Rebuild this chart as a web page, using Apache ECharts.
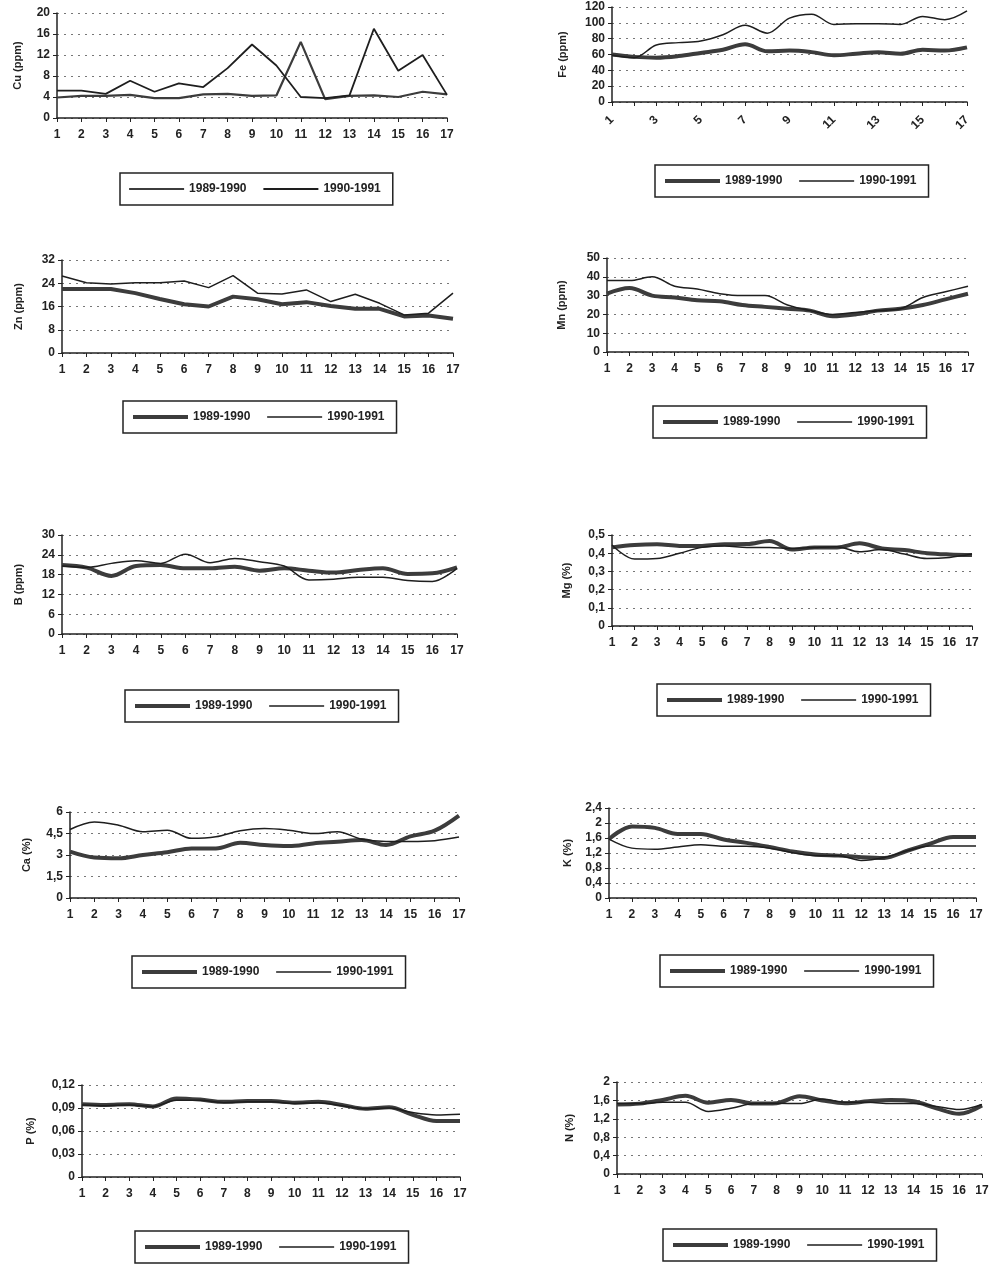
<!DOCTYPE html>
<html><head><meta charset="utf-8">
<script src="https://cdn.jsdelivr.net/npm/echarts@6/dist/echarts.min.js"></script>
<style>html,body{margin:0;padding:0;background:#fff}#c{width:992px;height:1268px}</style>
</head><body><div id="c"></div>
<script>
const categories = ['1','2','3','4','5','6','7','8','9','10','11','12','13','14','15','16','17'];
const seriesNames = ['1989-1990', '1990-1991'];

const cu_8990 = [3.9,4.2,4.2,4.4,3.8,3.8,4.5,4.6,4.2,4.3,14.5,3.6,4.2,4.3,4.0,5.0,4.5];
const cu_9091 = [5.2,5.2,4.6,7.1,5.0,6.6,5.9,9.5,14.0,10.0,4.0,3.8,4.3,17.0,9.0,12.0,4.4];

const fe_8990 = [60,57,56,58,62,66,73,64,65,63,59,61,63,61,66,65,69];
const fe_9091 = [59,56,72,75,77,85,97,87,106,111,98,99,99,98,108,104,115];

const zn_8990 = [22,22,22,20.6,18.6,16.8,16,19.4,18.5,16.8,17.5,16.2,15.2,15.2,12.6,12.9,11.8];
const zn_9091 = [26.5,24.2,23.7,24.2,24.2,24.8,22.5,26.6,20.6,20.3,21.7,17.7,20.2,17.1,13.1,13.7,20.6];

const mn_8990 = [31,34,30,29,27.5,27,25,24,23,22,19,20,22,23,25,28,31];
const mn_9091 = [38,38,40,35,33.5,31,30,30,25,22,20,21,22,23,29,32,35];

const b_8990 = [20.9,20.1,17.6,20.6,20.9,19.9,19.9,20.4,19.2,19.9,19.2,18.6,19.4,19.9,18.2,18.4,20.2];
const b_9091 = [20.6,20.2,21.4,22.2,21.4,24.2,21.6,22.9,21.9,20.6,16.4,16.6,17.2,17.2,16.2,15.9,19.9];

const mg_8990 = [0.432,0.445,0.449,0.44,0.44,0.449,0.45,0.467,0.42,0.432,0.432,0.454,0.426,0.417,0.40,0.393,0.39];
const mg_9091 = [0.445,0.368,0.371,0.40,0.432,0.44,0.432,0.432,0.426,0.432,0.436,0.408,0.42,0.395,0.371,0.377,0.395];

const ca_8990 = [3.23,2.82,2.77,3.0,3.19,3.46,3.46,3.86,3.69,3.62,3.81,3.92,4.04,3.7,4.3,4.7,5.75];
const ca_9091 = [4.78,5.31,5.08,4.62,4.73,4.16,4.27,4.69,4.85,4.73,4.5,4.62,4.1,3.95,3.95,4.0,4.25];

const k_8990 = [1.57,1.91,1.87,1.71,1.71,1.56,1.47,1.36,1.24,1.16,1.13,1.09,1.07,1.26,1.45,1.63,1.63];
const k_9091 = [1.57,1.33,1.3,1.36,1.42,1.38,1.38,1.33,1.21,1.13,1.13,1.0,1.08,1.26,1.39,1.39,1.39];

const p_8990 = [0.095,0.094,0.095,0.092,0.1025,0.101,0.098,0.099,0.099,0.097,0.098,0.094,0.089,0.091,0.081,0.073,0.073];
const p_9091 = [0.094,0.093,0.094,0.092,0.100,0.100,0.097,0.098,0.098,0.096,0.097,0.093,0.089,0.090,0.084,0.081,0.082];

const n_8990 = [1.51,1.53,1.61,1.70,1.55,1.61,1.53,1.54,1.69,1.6,1.54,1.58,1.61,1.58,1.43,1.31,1.49];
const n_9091 = [1.53,1.53,1.56,1.56,1.36,1.43,1.53,1.54,1.53,1.63,1.56,1.56,1.53,1.53,1.47,1.40,1.51];

const panels = [
  {label:'Cu (ppm)', a:cu_8990, b:cu_9091, max:20, step:4, smooth:false, grid:[57,13,390,105], leg:[120,173], gap:34, wa:2.2, wb:1.8},
  {label:'Fe (ppm)', a:fe_8990, b:fe_9091, max:120, step:20, smooth:true, grid:[612,7,355,95], leg:[655,165], gap:44, rot:45},
  {label:'Zn (ppm)', a:zn_8990, b:zn_9091, max:32, step:8, smooth:false, grid:[62,260,391,93], leg:[123,401], gap:38},
  {label:'Mn (ppm)', a:mn_8990, b:mn_9091, max:50, step:10, smooth:true, grid:[607,258,361,94], leg:[653,406], gap:40},
  {label:'B (ppm)', a:b_8990, b:b_9091, max:30, step:6, smooth:true, grid:[62,535,395,99], leg:[125,690], gap:38},
  {label:'Mg (%)', a:mg_8990, b:mg_9091, max:0.5, step:0.1, smooth:true, grid:[612,535,360,91], leg:[657,684], gap:40},
  {label:'Ca (%)', a:ca_8990, b:ca_9091, max:6, step:1.5, smooth:true, grid:[70,812,389,86], leg:[132,956], gap:38},
  {label:'K (%)', a:k_8990, b:k_9091, max:2.4, step:0.4, smooth:true, grid:[609,808,367,90], leg:[660,955], gap:36},
  {label:'P (%)', a:p_8990, b:p_9091, max:0.12, step:0.03, smooth:true, grid:[82,1085,378,92], leg:[135,1231], gap:46},
  {label:'N (%)', a:n_8990, b:n_9091, max:2, step:0.4, smooth:true, grid:[617,1082,365,92], leg:[663,1229], gap:42}
];

const font = 'Liberation Sans';
const ink = '#222';
const fmt = v => String(+v.toFixed(3)).replace('.', ',');

const option = {
  backgroundColor:'#fff', animation:false,
  textStyle:{fontFamily:font},
  grid:[], xAxis:[], yAxis:[], series:[], legend:[]
};

panels.forEach((p, i) => {
  const wa = p.wa || 4, wb = p.wb || 1.5;
  option.grid.push({left:p.grid[0], top:p.grid[1], width:p.grid[2], height:p.grid[3], containLabel:false});
  option.xAxis.push({
    type:'category', gridIndex:i, data:categories, boundaryGap:false,
    axisLine:{show:true, lineStyle:{color:ink, width:1.5}},
    axisTick:{show:true, length:4, alignWithLabel:true, interval:0, lineStyle:{color:ink}},
    axisLabel:{color:ink, fontWeight:'bold', fontSize:12, fontFamily:font, margin:p.rot ? 16 : 11,
      interval:p.rot ? 1 : 0, rotate:p.rot || 0},
    splitLine:{show:false}
  });
  option.yAxis.push({
    type:'value', gridIndex:i, min:0, max:p.max, interval:p.step,
    name:p.label, nameLocation:'middle', nameRotate:90, nameGap:p.gap,
    nameTextStyle:{color:ink, fontWeight:'bold', fontSize:11, fontFamily:font},
    axisLine:{show:true, lineStyle:{color:ink, width:1.5}},
    axisTick:{show:true, length:4, lineStyle:{color:ink}},
    axisLabel:{color:ink, fontWeight:'bold', fontSize:12, fontFamily:font, margin:7, formatter:fmt},
    splitLine:{show:true, lineStyle:{color:'#777', width:1, type:[2,5]}}
  });
  const na = i + '|' + seriesNames[0], nb = i + '|' + seriesNames[1];
  option.series.push({
    name:na, type:'line', xAxisIndex:i, yAxisIndex:i, data:p.a, symbol:'none', smooth:p.smooth ? 0.35 : false,
    lineStyle:{color:'#3c3c3c', width:wa}, itemStyle:{color:'#3c3c3c'}
  });
  option.series.push({
    name:nb, type:'line', xAxisIndex:i, yAxisIndex:i, data:p.b, symbol:'none', smooth:p.smooth ? 0.35 : false,
    lineStyle:{color:'#1e1e1e', width:wb}, itemStyle:{color:'#1e1e1e'}
  });
  option.legend.push({
    left:p.leg[0], top:p.leg[1], orient:'horizontal',
    data:[{name:na, lineStyle:{width:wa}}, {name:nb, lineStyle:{width:wb}}],
    formatter:n => n.split('|')[1], selectedMode:false,
    itemStyle:{opacity:0},
    itemWidth:55, itemHeight:14, itemGap:16, padding:[10,12,10,8],
    borderColor:ink, borderWidth:1.5, borderRadius:0, backgroundColor:'#fff',
    textStyle:{color:ink, fontWeight:'bold', fontSize:12, fontFamily:font}
  });
});

const chart = echarts.init(document.getElementById('c'), null, {renderer:'canvas'});
chart.setOption(option);
</script>
</body></html>
